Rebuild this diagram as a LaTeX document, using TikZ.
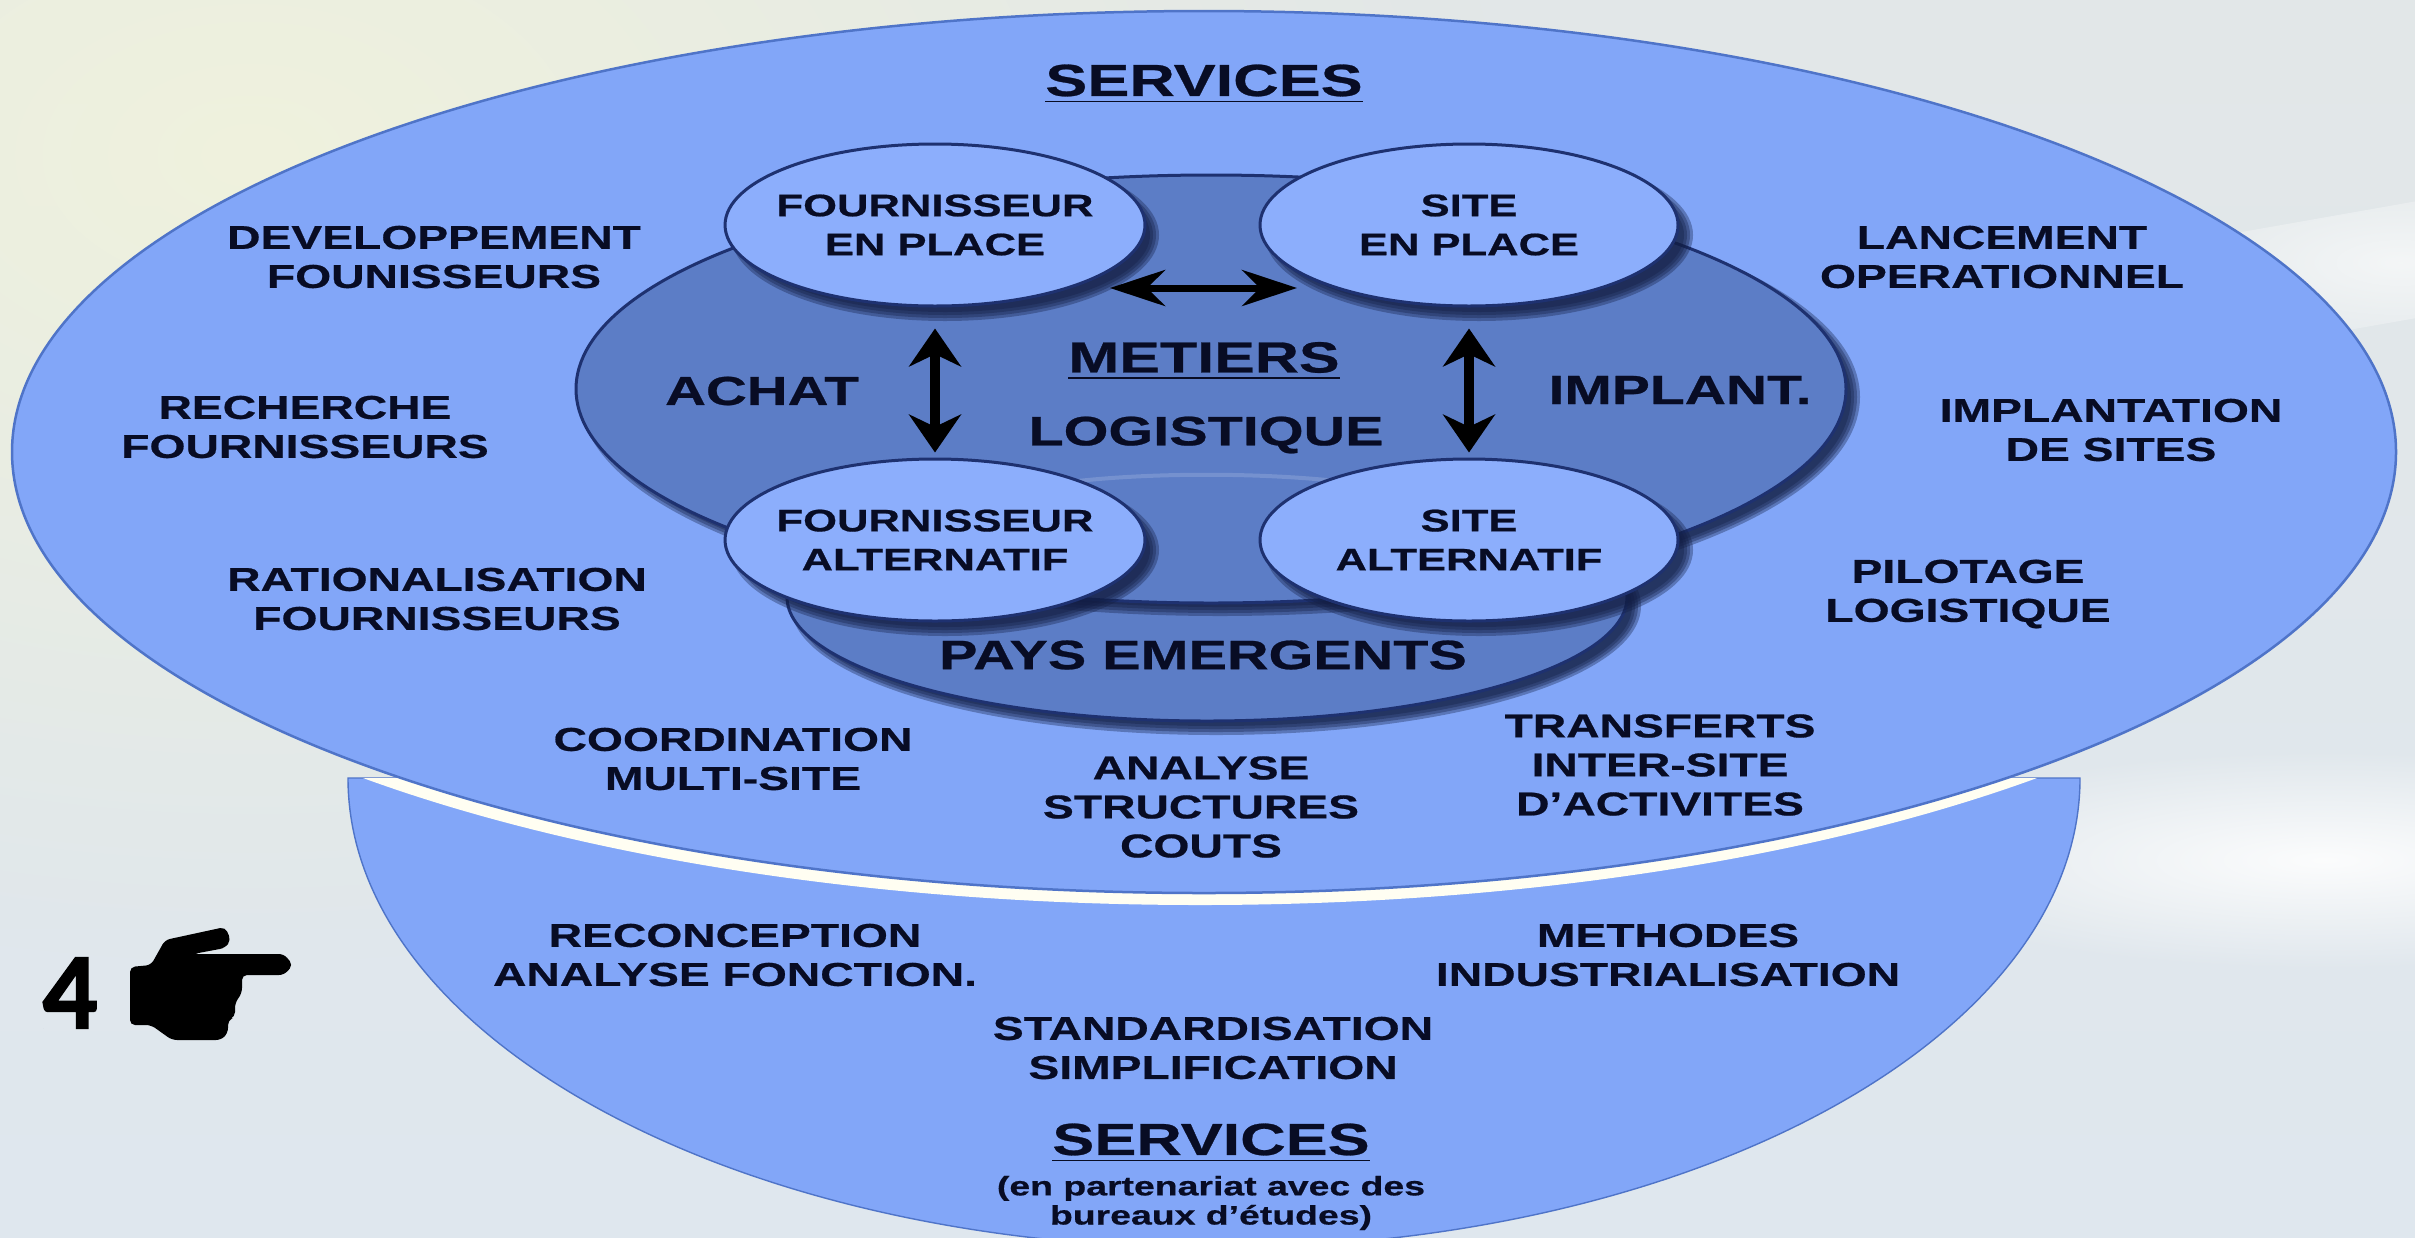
\documentclass[tikz,border=0pt]{standalone}
\usepackage{fontspec}
\setmainfont{Liberation Sans}[FakeStretch=1.4, BoldFeatures={FakeBold=.6, FakeStretch=1.4}]
\newfontfamily\numfont{Carlito}[BoldFeatures={FakeBold=1.5}]
\usepackage{tikz}
\usetikzlibrary{arrows.meta, shapes.geometric, fadings}
\definecolor{skyblue}{HTML}{82A6F8}
\definecolor{rimblue}{HTML}{4F74C8}
\definecolor{ovalblue}{HTML}{8CAEFC}
\definecolor{deepblue}{HTML}{5C7DC6}
\definecolor{edgeblue}{HTML}{1E3170}
\definecolor{inkblue}{HTML}{080C24}
\definecolor{paleback}{HTML}{E2E7E8}
\definecolor{creamback}{HTML}{F1F3DC}
\definecolor{lowback}{HTML}{DFE7EE}
\tikzfading[name = glow, inner color = transparent!10, outer color = transparent!100]
\tikzset{
  lbl/.style = {align = center, text = inkblue, font = \fontsize{9.4}{11.1}\selectfont\bfseries, inner sep = 0},
  biglbl/.style = {lbl, font = \fontsize{12}{14}\selectfont\bfseries},
  titlelbl/.style = {lbl, font = \fontsize{12.8}{15}\selectfont\bfseries},
  oval/.style = {ellipse, minimum width = 41.8mm, minimum height = 16.2mm, inner xsep = -1mm, inner ysep = 0, fill = ovalblue, draw = edgeblue, line width = .3mm, font = \fontsize{8.85}{11.1}\selectfont\bfseries},
  vertarrow/.style = {{Stealth[length = 3.8mm, width = 5.2mm]}-{Stealth[length = 3.8mm, width = 5.2mm]}, line width = 1mm, draw = black},
  horzarrow/.style = {{Stealth[length = 5.5mm, width = 3.6mm]}-{Stealth[length = 5.5mm, width = 3.6mm]}, line width = .7mm, draw = black}
}
\begin{document}
\begin{tikzpicture}[x = .1mm, y = -.1mm]
\useasboundingbox (0, 0) rectangle (2415, 1237);
\shade [top color = paleback, bottom color = lowback] (0, 0) rectangle (2415, 1237);
\fill [creamback, path fading = glow] (-1000, -650) rectangle (1500, 960);
% streaks on the right
\fill [white, opacity = .7, path fading = glow, rotate around = {10 : (2400, 262)}] (2100, 205) rectangle (2700, 320);
\fill [white, path fading = glow] (1850, 750) rectangle (2800, 970);
% lower half
\fill [skyblue, draw = rimblue] (348, 778) arc (180 : 0 : 866 and 470) -- cycle;
\begin{scope}
  \clip (348, 778) arc (180 : 0 : 866 and 470) -- cycle;
  \fill [yellow!5!white] (1200, 464) ellipse (1192 and 441);
\end{scope}
\fill [skyblue, draw = rimblue, line width = .25mm] (1204, 452) ellipse (1192 and 441);
% shadows under the metier shapes
\foreach \r in {5, 2, -1, -4}
  \fill [edgeblue!60!black, opacity = .35] (1216, 606) ellipse ({420+\r} and {124+\r});
\filldraw [fill = deepblue, draw = edgeblue, line width = .3mm] (1207, 597) ellipse (420 and 124);
\foreach \r in {5, 2, -1, -4}
  \fill [edgeblue!60!black, opacity = .35] (1220, 397) ellipse ({635+\r} and {214+\r});
\filldraw [fill = deepblue, draw = edgeblue, line width = .3mm] (1211, 389) ellipse (635 and 214);
\draw [deepblue!85!white, line width = .4mm] (1000, 495) .. controls (1090, 468) and (1320, 468) .. (1420, 495);
\foreach \xc/\yc in {935/225, 1469/225, 935/540, 1469/540}
  \foreach \r in {5, 2, -1, -4}
    \fill [edgeblue!60!black, opacity = .35] (\xc+10, \yc+10) ellipse ({209+\r} and {81+\r});
\node at (935, 225) [name = fourplace, lbl, oval] {FOURNISSEUR\\EN PLACE};
\node at (1469, 225) [name = siteplace, lbl, oval] {SITE\\EN PLACE};
\node at (935, 540) [name = fouralt, lbl, oval] {FOURNISSEUR\\ALTERNATIF};
\node at (1469, 540) [name = sitealt, lbl, oval] {SITE\\ALTERNATIF};
\coordinate (HL) at (1110, 288);
\coordinate (HR) at (1297, 288);
\draw [horzarrow] (HL) -- (HR);
\draw [vertarrow, shorten <= 2.1mm, shorten >= .5mm] (fourplace.south) -- (fouralt.north);
\draw [vertarrow, shorten <= 2.1mm, shorten >= .5mm] (siteplace.south) -- (sitealt.north);
\node at (1204, 84) [name = servup, titlelbl] {\underline{SERVICES}};
\node at (762, 391) [name = achat, biglbl, font = \fontsize{11.5}{13}\selectfont\bfseries] {ACHAT};
\node at (1204, 361) [name = metiers, biglbl, font = \fontsize{12.4}{14}\selectfont\bfseries] {\underline{METIERS}};
\node at (1206, 435) [name = logist, biglbl, font = \fontsize{11.7}{14}\selectfont\bfseries] {LOGISTIQUE};
\node at (1680, 390) [name = implant, biglbl, font = \fontsize{11.6}{13}\selectfont\bfseries] {IMPLANT.};
\node at (1203, 655) [name = pays, biglbl, font = \fontsize{11.7}{14}\selectfont\bfseries] {PAYS EMERGENTS};
\node at (434, 257) [name = devfou, lbl] {DEVELOPPEMENT\\FOUNISSEURS};
\node at (305, 427) [name = recfou, lbl] {RECHERCHE\\FOURNISSEURS};
\node at (437, 599) [name = ratfou, lbl] {RATIONALISATION\\FOURNISSEURS};
\node at (733, 759) [name = coord, lbl] {COORDINATION\\MULTI-SITE};
\node at (1201, 807) [name = analyse, lbl] {ANALYSE\\STRUCTURES\\COUTS};
\node at (1660, 765) [name = transf, lbl] {TRANSFERTS\\INTER-SITE\\D'ACTIVITES};
\node at (1968, 594) [name = pilot, lbl] {PILOTAGE\\LOGISTIQUE};
\node at (2111, 430) [name = implsite, lbl] {IMPLANTATION\\DE SITES};
\node at (2002, 257) [name = lance, lbl] {LANCEMENT\\OPERATIONNEL};
\node at (735, 955) [name = recon, lbl] {RECONCEPTION\\ANALYSE FONCTION.};
\node at (1668, 955) [name = method, lbl] {METHODES\\INDUSTRIALISATION};
\node at (1213, 1048) [name = stand, lbl] {STANDARDISATION\\SIMPLIFICATION};
\node at (1211, 1143) [name = servdown, titlelbl] {\underline{SERVICES}};
\node at (1211, 1203) [name = partner, lbl, font = \fontsize{7.6}{8.3}\selectfont\bfseries] {(en partenariat avec des\\bureaux d'études)};
\node at (70, 993) [name = four, font = \numfont\bfseries\fontsize{31}{31}\selectfont, inner sep = 0] {4};
% hand
\fill [black, rounded corners = .5mm] (130, 967) -- (151, 965) -- (165, 940) -- (225, 927) -- (231, 940) -- (225, 948) -- (193, 954) -- (284, 954) -- (293, 965) -- (284, 975) -- (242, 975) -- (242, 993) -- (235, 1003) -- (235, 1017) -- (228, 1020) -- (228, 1033) -- (221, 1040) -- (172, 1040) -- (151, 1025) -- (130, 1025) -- cycle;
\end{tikzpicture}
\end{document}
